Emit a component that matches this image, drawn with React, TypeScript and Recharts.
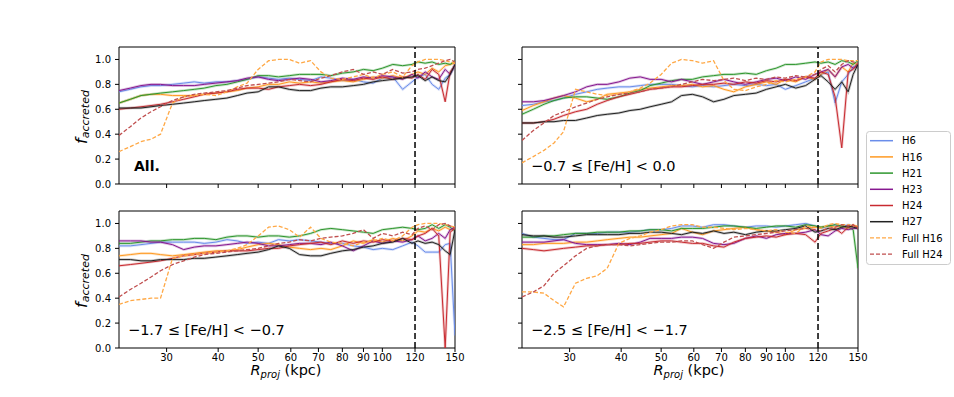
import { LineChart, Line, XAxis, YAxis, ReferenceLine, ReferenceArea } from 'recharts';

// projected radius bins (kpc)
const R = [23, 24.5, 26, 27.5, 29, 31, 33, 35, 37, 39.5, 42, 44.5, 47, 50, 53, 56, 59.5, 63, 67, 71, 75, 80, 85, 90, 95, 100, 106, 112, 118, 122, 127, 132, 137, 142, 146, 150];
const X_TICKS = [30, 40, 50, 60, 70, 80, 90, 100, 120, 150];
const Y_TICKS = [0, 0.2, 0.4, 0.6, 0.8, 1.0];

// All.
const allH6 = [0.74, 0.76, 0.78, 0.79, 0.79, 0.80, 0.81, 0.82, 0.81, 0.82, 0.82, 0.83, 0.84, 0.86, 0.85, 0.84, 0.85, 0.84, 0.83, 0.86, 0.85, 0.83, 0.84, 0.82, 0.81, 0.85, 0.86, 0.76, 0.82, 0.86, 0.88, 0.80, 0.76, 0.85, 0.88, 0.95];
const allH16 = [0.65, 0.68, 0.71, 0.72, 0.72, 0.71, 0.71, 0.71, 0.72, 0.73, 0.74, 0.75, 0.77, 0.78, 0.80, 0.80, 0.82, 0.81, 0.82, 0.81, 0.82, 0.83, 0.82, 0.84, 0.86, 0.85, 0.87, 0.85, 0.88, 0.90, 0.88, 0.93, 0.90, 0.95, 0.96, 0.97];
const allH21 = [0.65, 0.68, 0.71, 0.72, 0.73, 0.74, 0.75, 0.76, 0.77, 0.79, 0.80, 0.82, 0.84, 0.87, 0.87, 0.86, 0.87, 0.88, 0.88, 0.88, 0.87, 0.89, 0.90, 0.92, 0.91, 0.93, 0.96, 0.95, 0.96, 0.98, 0.97, 0.98, 0.96, 0.97, 0.96, 0.99];
const allH23 = [0.75, 0.77, 0.79, 0.80, 0.80, 0.79, 0.79, 0.79, 0.80, 0.81, 0.82, 0.83, 0.85, 0.86, 0.84, 0.83, 0.84, 0.85, 0.84, 0.82, 0.83, 0.85, 0.84, 0.86, 0.85, 0.87, 0.86, 0.84, 0.88, 0.85, 0.90, 0.86, 0.84, 0.92, 0.88, 0.96];
const allH24 = [0.60, 0.61, 0.62, 0.63, 0.64, 0.66, 0.68, 0.70, 0.72, 0.73, 0.74, 0.76, 0.77, 0.77, 0.76, 0.78, 0.79, 0.80, 0.79, 0.80, 0.82, 0.84, 0.83, 0.85, 0.84, 0.86, 0.84, 0.86, 0.85, 0.88, 0.84, 0.92, 0.88, 0.66, 0.90, 0.95];
const allH27 = [0.61, 0.61, 0.61, 0.62, 0.63, 0.64, 0.65, 0.66, 0.67, 0.68, 0.69, 0.71, 0.73, 0.74, 0.78, 0.78, 0.76, 0.75, 0.75, 0.77, 0.78, 0.78, 0.79, 0.80, 0.82, 0.83, 0.84, 0.85, 0.86, 0.87, 0.83, 0.86, 0.83, 0.82, 0.88, 0.96];
const allFullH16 = [0.26, 0.30, 0.34, 0.36, 0.40, 0.65, 0.70, 0.71, 0.72, 0.71, 0.74, 0.78, 0.81, 0.92, 0.99, 1.00, 1.00, 0.97, 0.99, 0.90, 0.85, 0.84, 0.86, 0.88, 0.85, 0.88, 0.90, 0.86, 0.95, 0.98, 1.00, 1.00, 1.00, 0.99, 0.98, 0.97];
const allFullH24 = [0.39, 0.46, 0.53, 0.58, 0.62, 0.67, 0.70, 0.72, 0.73, 0.74, 0.75, 0.77, 0.79, 0.80, 0.81, 0.82, 0.84, 0.83, 0.82, 0.85, 0.87, 0.90, 0.92, 0.88, 0.90, 0.88, 0.92, 0.89, 0.90, 0.92, 0.93, 0.95, 0.97, 0.99, 1.00, 0.98];

// -0.7 <= [Fe/H] < 0.0
const mrH6 = [0.63, 0.64, 0.66, 0.67, 0.69, 0.72, 0.74, 0.76, 0.77, 0.78, 0.78, 0.79, 0.80, 0.80, 0.80, 0.79, 0.78, 0.79, 0.78, 0.79, 0.80, 0.79, 0.80, 0.79, 0.80, 0.76, 0.79, 0.82, 0.85, 0.88, 0.90, 0.65, 0.82, 0.88, 0.94, 0.96];
const mrH16 = [0.59, 0.63, 0.66, 0.69, 0.71, 0.69, 0.66, 0.68, 0.72, 0.73, 0.74, 0.76, 0.77, 0.78, 0.79, 0.79, 0.80, 0.78, 0.79, 0.76, 0.74, 0.78, 0.80, 0.82, 0.80, 0.84, 0.82, 0.86, 0.84, 0.88, 0.92, 0.86, 0.94, 0.90, 0.97, 0.96];
const mrH21 = [0.56, 0.60, 0.64, 0.67, 0.69, 0.70, 0.70, 0.69, 0.68, 0.70, 0.73, 0.75, 0.79, 0.81, 0.83, 0.84, 0.84, 0.86, 0.87, 0.88, 0.88, 0.89, 0.88, 0.91, 0.93, 0.96, 0.96, 0.97, 0.98, 0.97, 0.98, 0.96, 0.99, 0.98, 0.96, 0.99];
const mrH23 = [0.66, 0.66, 0.67, 0.69, 0.71, 0.74, 0.78, 0.80, 0.80, 0.82, 0.85, 0.86, 0.84, 0.84, 0.82, 0.84, 0.82, 0.80, 0.82, 0.84, 0.82, 0.80, 0.82, 0.84, 0.85, 0.83, 0.86, 0.84, 0.88, 0.90, 0.92, 0.86, 0.94, 0.96, 0.93, 0.95];
const mrH24 = [0.49, 0.49, 0.50, 0.52, 0.55, 0.58, 0.60, 0.64, 0.67, 0.70, 0.72, 0.74, 0.76, 0.77, 0.78, 0.78, 0.79, 0.80, 0.80, 0.81, 0.80, 0.82, 0.81, 0.83, 0.82, 0.84, 0.83, 0.86, 0.85, 0.90, 0.88, 0.70, 0.29, 0.90, 0.92, 0.97];
const mrH27 = [0.49, 0.49, 0.50, 0.50, 0.51, 0.51, 0.53, 0.55, 0.56, 0.57, 0.59, 0.60, 0.62, 0.64, 0.66, 0.71, 0.72, 0.70, 0.66, 0.68, 0.71, 0.72, 0.73, 0.76, 0.78, 0.80, 0.77, 0.79, 0.84, 0.87, 0.82, 0.76, 0.82, 0.74, 0.88, 0.96];
const mrFullH16 = [0.17, 0.22, 0.27, 0.33, 0.42, 0.76, 0.74, 0.72, 0.71, 0.72, 0.74, 0.77, 0.81, 0.88, 0.97, 1.00, 0.99, 0.97, 0.99, 0.83, 0.76, 0.75, 0.78, 0.80, 0.83, 0.82, 0.84, 0.86, 0.90, 0.98, 1.00, 1.00, 1.00, 0.99, 0.99, 0.99];
const mrFullH24 = [0.35, 0.43, 0.49, 0.55, 0.58, 0.62, 0.65, 0.68, 0.70, 0.72, 0.73, 0.74, 0.76, 0.77, 0.78, 0.80, 0.82, 0.84, 0.83, 0.84, 0.85, 0.83, 0.85, 0.84, 0.86, 0.85, 0.87, 0.86, 0.88, 0.92, 0.95, 0.90, 0.96, 0.99, 0.98, 0.97];

// -1.7 <= [Fe/H] < -0.7
const mpH6 = [0.82, 0.82, 0.83, 0.84, 0.85, 0.85, 0.85, 0.85, 0.84, 0.85, 0.87, 0.86, 0.84, 0.85, 0.84, 0.87, 0.86, 0.87, 0.86, 0.85, 0.84, 0.84, 0.82, 0.81, 0.79, 0.80, 0.79, 0.82, 0.85, 0.82, 0.77, 0.77, 0.77, 0.83, 0.84, 0.10];
const mpH16 = [0.74, 0.75, 0.76, 0.76, 0.75, 0.74, 0.75, 0.76, 0.77, 0.78, 0.78, 0.79, 0.81, 0.83, 0.84, 0.83, 0.81, 0.80, 0.79, 0.80, 0.79, 0.82, 0.86, 0.84, 0.87, 0.85, 0.88, 0.86, 0.90, 0.94, 0.93, 0.96, 0.94, 0.97, 0.95, 0.96];
const mpH21 = [0.84, 0.84, 0.85, 0.86, 0.86, 0.87, 0.87, 0.88, 0.88, 0.87, 0.89, 0.90, 0.90, 0.89, 0.90, 0.90, 0.89, 0.90, 0.92, 0.95, 0.96, 0.95, 0.94, 0.93, 0.92, 0.95, 0.96, 0.97, 0.96, 0.95, 0.96, 0.99, 0.96, 0.99, 0.97, 0.94];
const mpH23 = [0.86, 0.86, 0.86, 0.85, 0.85, 0.83, 0.79, 0.81, 0.82, 0.82, 0.83, 0.84, 0.85, 0.84, 0.82, 0.82, 0.83, 0.84, 0.84, 0.83, 0.85, 0.82, 0.78, 0.82, 0.86, 0.84, 0.86, 0.85, 0.87, 0.90, 0.86, 0.88, 0.92, 0.88, 0.95, 0.97];
const mpH24 = [0.66, 0.67, 0.68, 0.69, 0.70, 0.72, 0.74, 0.75, 0.76, 0.77, 0.78, 0.78, 0.78, 0.79, 0.80, 0.80, 0.82, 0.83, 0.84, 0.85, 0.83, 0.86, 0.84, 0.86, 0.85, 0.87, 0.86, 0.88, 0.87, 0.90, 0.92, 0.96, 0.90, 0.00, 0.93, 0.96];
const mpH27 = [0.71, 0.71, 0.70, 0.70, 0.71, 0.71, 0.71, 0.72, 0.72, 0.73, 0.74, 0.75, 0.76, 0.77, 0.79, 0.82, 0.80, 0.75, 0.74, 0.74, 0.76, 0.78, 0.79, 0.81, 0.82, 0.84, 0.85, 0.88, 0.84, 0.86, 0.84, 0.85, 0.83, 0.78, 0.75, 0.95];
const mpFullH16 = [0.35, 0.38, 0.39, 0.40, 0.40, 0.72, 0.74, 0.75, 0.76, 0.77, 0.78, 0.80, 0.83, 0.90, 0.97, 0.98, 0.95, 0.89, 0.97, 0.88, 0.85, 0.84, 0.82, 0.85, 0.86, 0.88, 0.86, 0.90, 0.97, 0.99, 1.00, 1.00, 1.00, 0.99, 0.98, 0.97];
const mpFullH24 = [0.41, 0.47, 0.52, 0.57, 0.62, 0.67, 0.70, 0.73, 0.75, 0.76, 0.77, 0.78, 0.79, 0.80, 0.82, 0.84, 0.85, 0.87, 0.86, 0.88, 0.89, 0.90, 0.92, 0.95, 0.88, 0.92, 0.90, 0.93, 0.91, 0.96, 0.98, 0.95, 0.99, 1.00, 0.98, 0.96];

// -2.5 <= [Fe/H] < -1.7
const vpH6 = [0.92, 0.89, 0.88, 0.87, 0.87, 0.92, 0.92, 0.92, 0.93, 0.93, 0.93, 0.94, 0.95, 0.95, 0.96, 0.98, 0.98, 0.97, 0.99, 0.99, 0.98, 0.97, 0.98, 0.98, 0.97, 0.98, 0.99, 1.00, 0.98, 0.96, 0.98, 0.99, 0.97, 0.99, 0.98, 0.97];
const vpH16 = [0.83, 0.83, 0.84, 0.84, 0.84, 0.85, 0.85, 0.86, 0.87, 0.88, 0.89, 0.89, 0.90, 0.91, 0.92, 0.96, 0.93, 0.91, 0.94, 0.95, 0.96, 0.97, 0.95, 0.94, 0.93, 0.91, 0.95, 0.96, 0.97, 0.97, 0.98, 0.97, 0.98, 0.96, 0.99, 0.97];
const vpH21 = [0.89, 0.89, 0.90, 0.90, 0.91, 0.92, 0.92, 0.93, 0.93, 0.93, 0.94, 0.94, 0.95, 0.95, 0.94, 0.96, 0.96, 0.96, 0.97, 0.98, 0.98, 0.97, 0.96, 0.97, 0.98, 0.98, 0.97, 0.99, 0.98, 0.97, 0.98, 0.99, 0.98, 0.97, 0.95, 0.64];
const vpH23 = [0.85, 0.85, 0.85, 0.86, 0.87, 0.84, 0.83, 0.83, 0.83, 0.84, 0.83, 0.85, 0.88, 0.88, 0.88, 0.89, 0.89, 0.88, 0.84, 0.83, 0.84, 0.88, 0.90, 0.88, 0.91, 0.92, 0.92, 0.93, 0.95, 0.91, 0.90, 0.94, 0.96, 0.95, 0.96, 0.96];
const vpH24 = [0.80, 0.79, 0.78, 0.79, 0.80, 0.81, 0.82, 0.82, 0.83, 0.83, 0.84, 0.84, 0.85, 0.86, 0.86, 0.85, 0.84, 0.84, 0.82, 0.81, 0.85, 0.88, 0.89, 0.90, 0.89, 0.91, 0.92, 0.91, 0.85, 0.92, 0.94, 0.96, 0.92, 0.97, 0.98, 0.97];
const vpH27 = [0.91, 0.90, 0.90, 0.89, 0.89, 0.90, 0.91, 0.91, 0.91, 0.91, 0.92, 0.92, 0.93, 0.93, 0.92, 0.91, 0.93, 0.92, 0.94, 0.92, 0.93, 0.91, 0.93, 0.94, 0.94, 0.95, 0.96, 0.98, 0.93, 0.94, 0.96, 0.95, 0.97, 0.98, 0.97, 0.96];
const vpFullH16 = [0.45, 0.45, 0.44, 0.38, 0.33, 0.52, 0.56, 0.58, 0.64, 0.84, 0.88, 0.90, 0.93, 0.95, 0.98, 0.99, 0.99, 0.97, 0.97, 0.96, 0.95, 0.96, 0.95, 0.94, 0.95, 0.93, 0.92, 0.98, 0.97, 0.96, 0.99, 1.00, 0.99, 0.99, 0.98, 0.98];
const vpFullH24 = [0.41, 0.45, 0.50, 0.60, 0.66, 0.74, 0.80, 0.82, 0.83, 0.83, 0.82, 0.83, 0.84, 0.85, 0.85, 0.86, 0.86, 0.83, 0.80, 0.85, 0.89, 0.90, 0.91, 0.92, 0.93, 0.94, 0.95, 0.96, 0.95, 0.94, 0.96, 0.97, 0.99, 0.98, 0.99, 0.96];

const FONT = 'DejaVu Sans';

const SERIES = [
  { key: 'H6', name: 'H6', color: '#6a8dea', dashed: false },
  { key: 'H16', name: 'H16', color: '#ff9a22', dashed: false },
  { key: 'H21', name: 'H21', color: '#2e962e', dashed: false },
  { key: 'H23', name: 'H23', color: '#86188f', dashed: false },
  { key: 'H24', name: 'H24', color: '#c82a30', dashed: false },
  { key: 'H27', name: 'H27', color: '#222222', dashed: false },
  { key: 'FullH16', name: 'Full H16', color: '#ffa845', dashed: true },
  { key: 'FullH24', name: 'Full H24', color: '#c04f4f', dashed: true },
];

const PANELS = [
  { label: 'All.', bold: true, left: 119, top: 47, xLabels: false, yLabels: true,
    values: [allH6, allH16, allH21, allH23, allH24, allH27, allFullH16, allFullH24] },
  { label: '\u22120.7 \u2264 [Fe/H] < 0.0', bold: false, left: 522, top: 47, xLabels: false, yLabels: false,
    values: [mrH6, mrH16, mrH21, mrH23, mrH24, mrH27, mrFullH16, mrFullH24] },
  { label: '\u22121.7 \u2264 [Fe/H] < \u22120.7', bold: false, left: 119, top: 211, xLabels: true, yLabels: true,
    values: [mpH6, mpH16, mpH21, mpH23, mpH24, mpH27, mpFullH16, mpFullH24] },
  { label: '\u22122.5 \u2264 [Fe/H] < \u22121.7', bold: false, left: 522, top: 211, xLabels: true, yLabels: false,
    values: [vpH6, vpH16, vpH21, vpH23, vpH24, vpH27, vpFullH16, vpFullH24] },
];

function buildRows(values: number[][]) {
  return R.map((r, i) => {
    const row: Record<string, number> = { r };
    SERIES.forEach((s, k) => {
      row[s.key] = values[k][i];
    });
    return row;
  });
}

function Panel({ p }: { p: (typeof PANELS)[number] }) {
  const rows = buildRows(p.values);
  const lines: JSX.Element[] = [];
  SERIES.forEach((s) => {
    if (!s.dashed) {
      lines.push(
        <Line key={s.key + '-bg'} dataKey={s.key} type="linear" stroke={s.color} strokeWidth={2.6}
          strokeOpacity={0.25} dot={false} activeDot={false} isAnimationActive={false} />
      );
      lines.push(
        <Line key={s.key} dataKey={s.key} type="linear" stroke={s.color} strokeWidth={1}
          dot={false} activeDot={false} isAnimationActive={false} />
      );
    } else {
      lines.push(
        <Line key={s.key} dataKey={s.key} type="linear" stroke={s.color} strokeWidth={1.3}
          strokeDasharray="4 2" dot={false} activeDot={false} isAnimationActive={false} />
      );
    }
  });

  return (
    <div style={{ position: 'absolute', left: p.left - 60, top: p.top - 10 }}>
      <LineChart width={406} height={177} data={rows} margin={{ top: 10, right: 10, left: 0, bottom: 0 }}>
        <XAxis
          dataKey="r"
          type="number"
          scale="log"
          domain={[23, 150]}
          allowDataOverflow
          ticks={X_TICKS}
          interval={0}
          height={30}
          tickSize={4}
          axisLine={false}
          tickLine={{ stroke: '#000' }}
          tick={{ fontSize: 10, fill: '#000', fontFamily: FONT }}
          tickFormatter={(v: number) => (p.xLabels ? String(v) : '')}
        />
        <YAxis
          type="number"
          domain={[0, 1.1]}
          allowDataOverflow
          ticks={Y_TICKS}
          interval={0}
          width={60}
          tickSize={4}
          axisLine={false}
          tickLine={{ stroke: '#000' }}
          tick={{ fontSize: 10, fill: '#000', fontFamily: FONT, dx: -2 }}
          tickFormatter={(v: number) => (p.yLabels ? v.toFixed(1) : '')}
        />
        <ReferenceArea x1={23} x2={150} y1={0} y2={1.1} fill="none" stroke="#000" strokeWidth={1} />
        {lines}
        <ReferenceLine x={120} stroke="#000" strokeWidth={1.5} strokeDasharray="6 3" />
      </LineChart>
    </div>
  );
}

export default function App() {
  return (
    <div style={{ position: 'absolute', left: 0, top: 0, width: 954, height: 397, background: '#fff', fontFamily: FONT }}>
      {PANELS.map((p) => (
        <Panel key={p.label} p={p} />
      ))}
      <svg width={954} height={397} style={{ position: 'absolute', left: 0, top: 0, pointerEvents: 'none' }} fontFamily={FONT}>
        {PANELS.map((p) => (
          <text key={p.label} x={p.left + (p.bold ? 15 : 9)} y={p.top + 124} fontSize={p.bold ? 14 : 14.5}
            fontWeight={p.bold ? 'bold' : 'normal'} fill="#000">
            {p.label}
          </text>
        ))}
        {[117, 281].map((cy) => (
          <text key={cy} transform={`translate(87,${cy}) rotate(-90)`} textAnchor="middle" fill="#000">
            <tspan fontStyle="italic" fontSize={16}>f</tspan>
            <tspan fontStyle="italic" fontSize={11} dy={2}>accreted</tspan>
          </text>
        ))}
        {[286, 689].map((cx) => (
          <text key={cx} x={cx} y={375} textAnchor="middle" fontSize={14.5} fill="#000">
            <tspan fontStyle="italic">R</tspan>
            <tspan fontStyle="italic" fontSize={10} dy={3}>proj</tspan>
            <tspan dy={-3}> (kpc)</tspan>
          </text>
        ))}
        <rect x={866.5} y={131.5} width={84} height={133} rx={3} fill="#fff" stroke="#cccccc" />
        {SERIES.map((s, i) => {
          const y = 140.7 + i * 16.2;
          return (
            <g key={s.key}>
              <line x1={870} x2={893} y1={y} y2={y} stroke={s.color} strokeWidth={s.dashed ? 1.3 : 1.5}
                strokeDasharray={s.dashed ? '4 2' : undefined} />
              <text x={902} y={y + 3.6} fontSize={10} fill="#000">{s.name}</text>
            </g>
          );
        })}
      </svg>
    </div>
  );
}
